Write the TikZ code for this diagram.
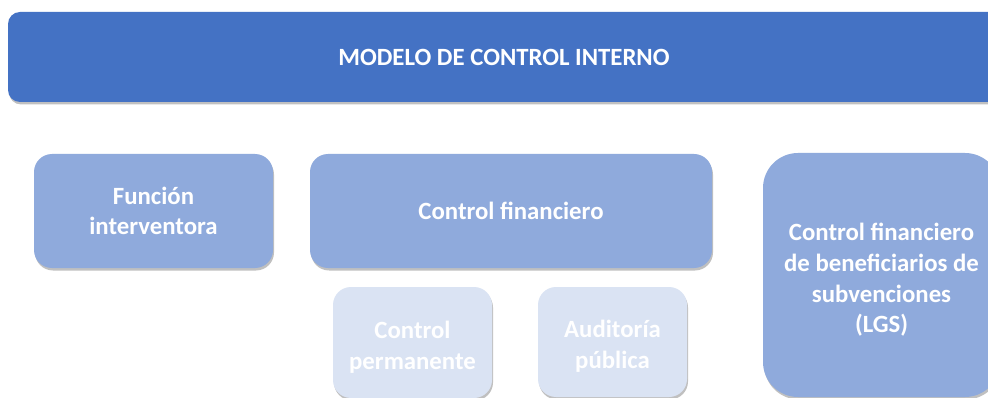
\documentclass[tikz,border=0pt]{standalone}
\usepackage{fontspec}
\setmainfont{Carlito}
\usetikzlibrary{shadows}
\definecolor{topblue}{HTML}{4472C4}
\definecolor{midblue}{HTML}{8FAADC}
\definecolor{lightblue}{HTML}{DAE3F3}
\tikzset{
  txt/.style={inner sep=0pt, align=center, text=white,
    font=\fontsize{24.8}{30.6}\selectfont\bfseries},
  boxbase/.style={rectangle, txt,
    drop shadow={shadow xshift=1pt, shadow yshift=-2.5pt, opacity=0.35, fill=black!70}},
  topbar/.style={boxbase, fill=topblue, rounded corners=12pt},
  midbox/.style={boxbase, fill=midblue, rounded corners=18pt},
  lightbox/.style={boxbase, fill=lightblue, rounded corners=18pt},
}
\begin{document}
\begin{tikzpicture}[x=1pt,y=-1pt]
\useasboundingbox (0,0) rectangle (988,398);
\fill[white] (0,0) rectangle (988,398);
\clip (0,0) rectangle (988,398);
\node[topbar, minimum width=992pt, minimum height=90pt] (top) at (504,57) {MODELO DE CONTROL INTERNO};
\node[midbox, minimum width=239pt, minimum height=114pt] (fi) at (153.5,211) {Función\\interventora};
\node[midbox, minimum width=402pt, minimum height=114pt] (cf) at (511,211) {Control financiero};
\node[midbox, rounded corners=35pt, minimum width=237pt, minimum height=244pt,
  label={[txt, yshift=-5pt]center:Control financiero\\de beneficiarios de\\subvenciones\\(LGS)}] (lgs) at (881.5,275) {};
\node[lightbox, minimum width=159pt, minimum height=111pt,
  label={[txt, yshift=-4.5pt]center:Control\\permanente}] (cp) at (412.5,342.5) {};
\node[lightbox, minimum width=149pt, minimum height=110pt,
  label={[txt, yshift=-4.5pt]center:Auditoría\\pública}] (ap) at (612.5,342) {};
\end{tikzpicture}
\end{document}
